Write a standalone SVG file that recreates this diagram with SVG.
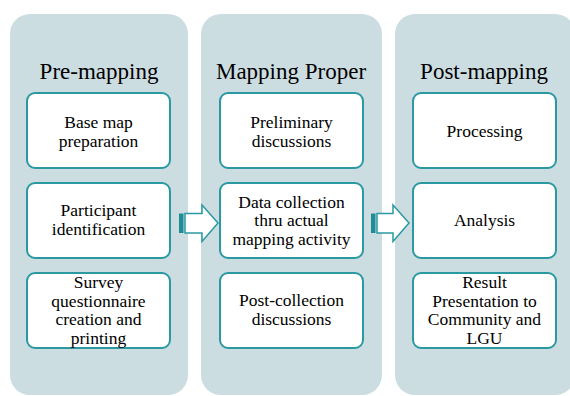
<svg xmlns="http://www.w3.org/2000/svg" width="570" height="396" viewBox="0 0 570 396">
<style>
.panel{fill:#CCDDE2;}
.box{fill:#FFFFFF;stroke:#2A99A1;stroke-width:2;}
.title{font-family:'Liberation Serif','DejaVu Serif',serif;font-size:23px;fill:#000;text-anchor:middle;}
.t{font-family:'Liberation Serif','DejaVu Serif',serif;font-size:17.5px;fill:#000;text-anchor:middle;}
.arrow{fill:#FFFFFF;stroke:#2A99A1;stroke-width:1.5;stroke-linejoin:miter;}
.bar{fill:#1E8D95;}
</style>
<rect width="570" height="396" fill="#FFFFFF"/>
<g id="panel-pre">
<rect class="panel" x="10" y="14" width="178" height="381" rx="20"/>
<text class="title" x="99" y="79">Pre-mapping</text>
</g>
<g id="panel-proper">
<rect class="panel" x="201" y="14" width="181" height="381" rx="20"/>
<text class="title" x="291" y="79">Mapping Proper</text>
</g>
<g id="panel-post">
<rect class="panel" x="395" y="14" width="180" height="381" rx="20"/>
<text class="title" x="484" y="79">Post-mapping</text>
</g>
<g id="n-base">
<rect class="box" x="27" y="93" width="143" height="75" rx="8"/>
<text class="t" x="98.5" y="128">Base map</text>
<text class="t" x="98.5" y="146.5">preparation</text>
</g>
<g id="n-participant">
<rect class="box" x="27" y="183" width="143" height="75" rx="8"/>
<text class="t" x="98.5" y="216">Participant</text>
<text class="t" x="98.5" y="234.5">identification</text>
</g>
<g id="n-survey">
<rect class="box" x="27" y="273" width="143" height="75" rx="8"/>
<text class="t" x="98.5" y="288">Survey</text>
<text class="t" x="98.5" y="306.5">questionnaire</text>
<text class="t" x="98.5" y="325">creation and</text>
<text class="t" x="98.5" y="343.5">printing</text>
</g>
<g id="n-preliminary">
<rect class="box" x="220" y="93" width="143" height="75" rx="8"/>
<text class="t" x="291.5" y="128">Preliminary</text>
<text class="t" x="291.5" y="146.5">discussions</text>
</g>
<g id="n-data">
<rect class="box" x="220" y="183" width="143" height="75" rx="8"/>
<text class="t" x="291.5" y="207.5">Data collection</text>
<text class="t" x="291.5" y="226">thru actual</text>
<text class="t" x="291.5" y="244.5">mapping activity</text>
</g>
<g id="n-postcollection">
<rect class="box" x="220" y="273" width="143" height="75" rx="8"/>
<text class="t" x="291.5" y="306">Post-collection</text>
<text class="t" x="291.5" y="324.5">discussions</text>
</g>
<g id="n-processing">
<rect class="box" x="413" y="93" width="143" height="75" rx="8"/>
<text class="t" x="484.5" y="137">Processing</text>
</g>
<g id="n-analysis">
<rect class="box" x="413" y="183" width="143" height="75" rx="8"/>
<text class="t" x="484.5" y="226">Analysis</text>
</g>
<g id="n-result">
<rect class="box" x="413" y="273" width="143" height="75" rx="8"/>
<text class="t" x="484.5" y="288">Result</text>
<text class="t" x="484.5" y="306.5">Presentation to</text>
<text class="t" x="484.5" y="325">Community and</text>
<text class="t" x="484.5" y="343.5">LGU</text>
</g>
<g id="connectors">
<rect class="bar" x="179" y="213.5" width="4.5" height="19.5"/>
<path class="arrow" d="M185,213.5 H202 V205 L218,223 L202,241.5 V233 H185 Z"/>
<rect class="bar" x="371" y="213.5" width="4.5" height="19.5"/>
<path class="arrow" d="M377,213.5 H393 V205 L409,223 L393,241.5 V233 H377 Z"/>
</g>
</svg>
